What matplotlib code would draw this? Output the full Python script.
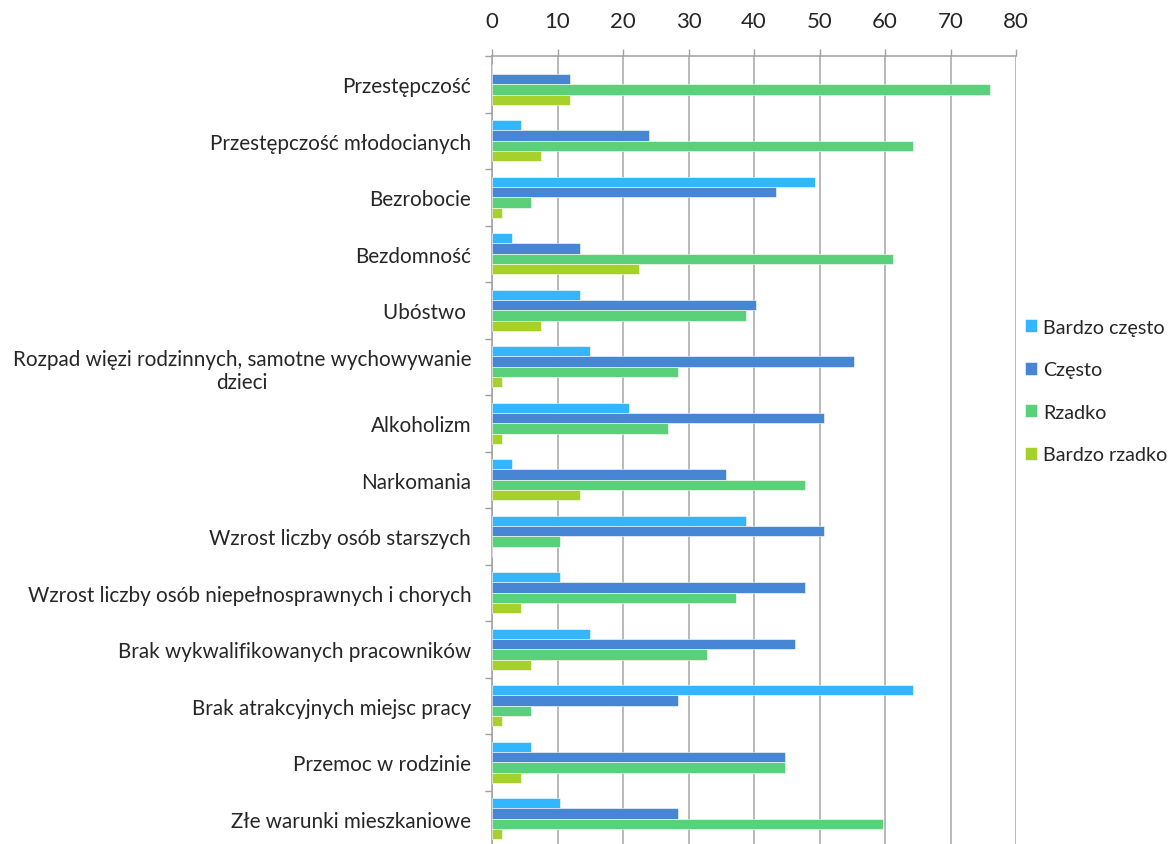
import numpy as np
import matplotlib.pyplot as plt
from matplotlib.ticker import FixedLocator

plt.rcParams['font.family'] = ['Lato', 'DejaVu Sans']

categories = [
    "Przestępczość",
    "Przestępczość młodocianych",
    "Bezrobocie",
    "Bezdomność",
    "Ubóstwo ",
    "Rozpad więzi rodzinnych, samotne wychowywanie\ndzieci",
    "Alkoholizm",
    "Narkomania",
    "Wzrost liczby osób starszych",
    "Wzrost liczby osób niepełnosprawnych i chorych",
    "Brak wykwalifikowanych pracowników",
    "Brak atrakcyjnych miejsc pracy",
    "Przemoc w rodzinie",
    "Złe warunki mieszkaniowe",
]
bardzo_czesto = [0, 4.5, 49.3, 3.0, 13.4, 14.9, 20.9, 3.0, 38.8, 10.4, 14.9, 64.2, 6.0, 10.4]
czesto = [11.9, 23.9, 43.3, 13.4, 40.3, 55.2, 50.7, 35.8, 50.7, 47.8, 46.3, 28.4, 44.8, 28.4]
rzadko = [76.1, 64.2, 6.0, 61.2, 38.8, 28.4, 26.9, 47.8, 10.4, 37.3, 32.8, 6.0, 44.8, 59.7]
bardzo_rzadko = [11.9, 7.5, 1.5, 22.4, 7.5, 1.5, 1.5, 13.4, 0, 4.5, 6.0, 1.5, 4.5, 1.5]

series = [
    ("Bardzo często", bardzo_czesto, "#33B6FE"),
    ("Często", czesto, "#4686D4"),
    ("Rzadko", rzadko, "#5BD07A"),
    ("Bardzo rzadko", bardzo_rzadko, "#A6D02A"),
]

fig = plt.figure(figsize=(11.73, 8.45), dpi=100)
ax = fig.add_axes([492 / 1173, (845 - 848) / 845, (1016 - 492) / 1173, 791 / 845])

y = np.arange(len(categories))
h = 0.183
for i, (name, vals, col) in enumerate(series):
    ax.barh(y + (i - 1.5) * h, vals, height=h, color=col, label=name,
            edgecolor="white", linewidth=0.4, zorder=3)

ax.set_xlim(0, 80)
ax.set_ylim(13.5, -0.5)
ax.set_xticks(np.arange(0, 81, 10))
ax.xaxis.tick_top()
ax.tick_params(axis="x", which="major", length=5, color="#A0A0A0", width=1,
               pad=13, labelsize=16, labelcolor="#262626")
ax.grid(axis="x", color="#A6A6A6", linewidth=1.1, zorder=0)

ax.set_yticks(y)
ax.set_yticklabels(categories)
for lab in ax.get_yticklabels():
    lab.set_multialignment("center")
ax.yaxis.set_minor_locator(FixedLocator(np.arange(-0.5, 14, 1)))
ax.tick_params(axis="y", which="major", length=0, pad=15, labelsize=14.9, labelcolor="#262626")
ax.tick_params(axis="y", which="minor", length=5, color="#A0A0A0", width=1)

for s in ["right", "bottom"]:
    ax.spines[s].set_visible(False)
for s in ["left", "top"]:
    ax.spines[s].set_color("#A0A0A0")
    ax.spines[s].set_linewidth(1.1)

fig.legend(loc="center left", bbox_to_anchor=(1025 / 1173, 1 - 392 / 845),
           frameon=False, fontsize=14.2, handlelength=0.62, handleheight=0.62,
           handletextpad=0.3, labelspacing=1.3, borderpad=0, borderaxespad=0,
           labelcolor="#262626")

fig.savefig("out.png", dpi=100)
